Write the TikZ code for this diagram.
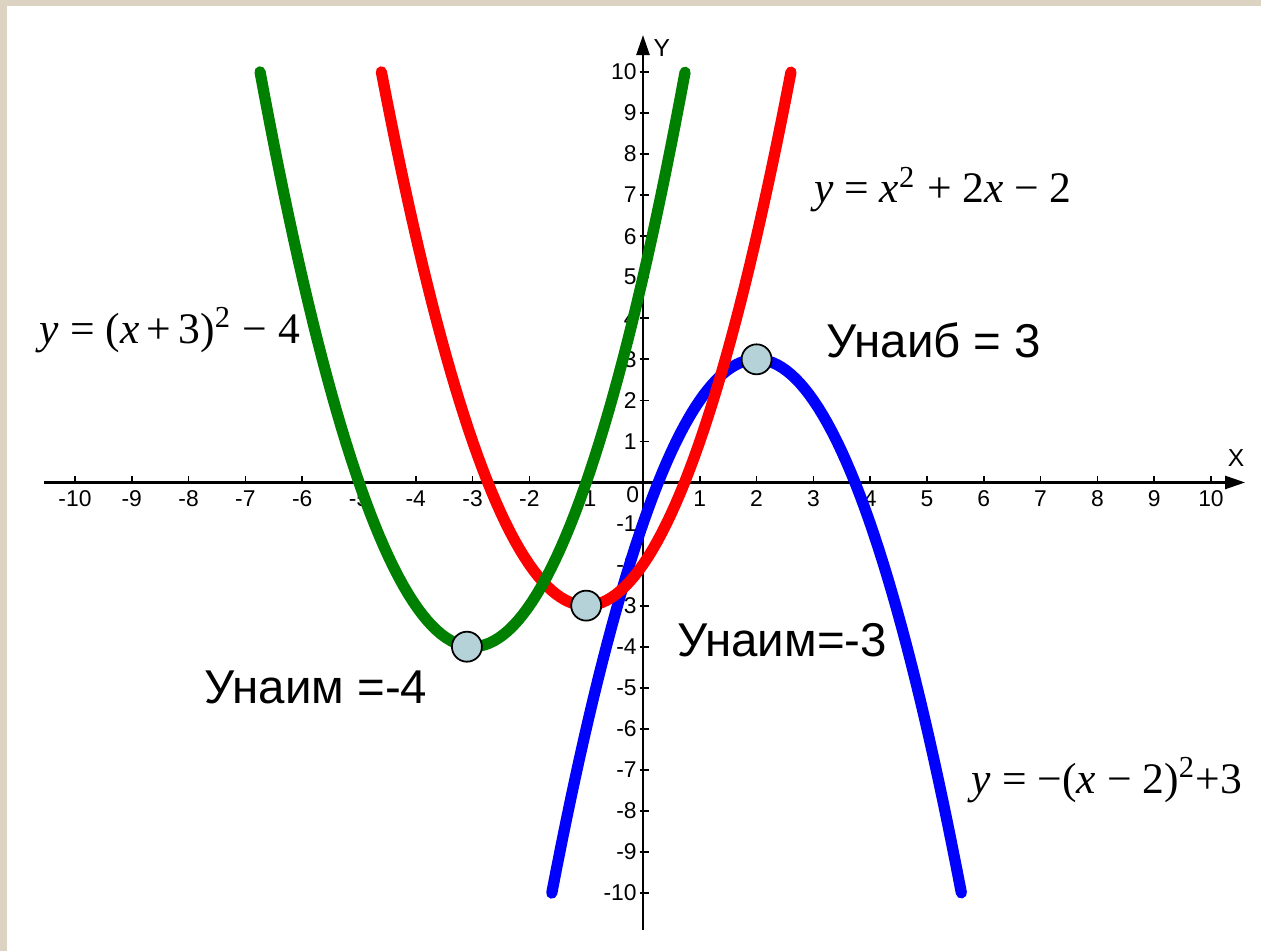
\documentclass[tikz,border=0pt]{standalone}
\usepackage{fontspec}
\setmainfont{Liberation Serif}
\newfontfamily\labelfont{Liberation Sans}
\usepackage{tikz}
\usetikzlibrary{arrows.meta}
\usepackage{xcolor}

\definecolor{framebeige}{RGB}{221,211,195}
\definecolor{curvegreen}{RGB}{0,128,0}
\definecolor{dotfill}{RGB}{180,210,216}

\tikzset{
  curve/.style={line width=3.2pt, line cap=round, line join=round},
  axisline/.style={line width=0.7pt, -{Triangle[length=0.2cm,width=0.13cm]}},
  vertexdot/.style={circle, draw=black, line width=0.5pt, fill=dotfill, minimum size=0.3cm, inner sep=0pt},
  extremum/.style={font=\labelfont\fontsize{13.5}{16}\selectfont},
  formula/.style={font=\fontsize{12.4}{14}\selectfont},
  numlbl/.style={font=\labelfont\fontsize{6.5}{7}\selectfont, inner sep=0pt}
}

\begin{document}
\begin{tikzpicture}[x=0.568cm,y=0.4105cm]

\fill[framebeige] (-6.43cm,-4.685cm) rectangle (6.18cm,4.825cm);
\fill[white] (-6.36cm,-4.685cm) rectangle (6.18cm,4.765cm);
\useasboundingbox (-6.43cm,-4.685cm) rectangle (6.18cm,4.825cm);

% axes
\coordinate (xs) at (-10.55,0);
\coordinate (xe) at (10.6,0);
\coordinate (ys) at (0,-10.9);
\coordinate (ye) at (0,10.9);
\draw[axisline] (xs) -- (xe);
\draw[axisline] (ys) -- (ye);

\foreach \k in {1,...,10}{
  \draw[line width=0.5pt] (\k,0) -- (\k,0.15);
  \draw[line width=0.5pt] (-\k,0) -- (-\k,0.15);
  \draw[line width=0.5pt] (-0.06,\k) -- (0.1,\k);
  \draw[line width=0.5pt] (-0.06,-\k) -- (0.1,-\k);
  \node[numlbl, anchor=base] (xp\k) at (\k,-0.58) {\k};
  \node[numlbl, anchor=base] (xm\k) at (-\k,-0.58) {-\k};
  \node[numlbl, anchor=east] (yp\k) at (-0.1,\k) {\k};
  \node[numlbl, anchor=east] (ym\k) at (-0.1,-\k) {-\k};
}
\node[numlbl, anchor=base] (orig) at (-0.18,-0.48) {0};
\node[numlbl, font=\labelfont\fontsize{7}{8}\selectfont] (xlbl) at (10.44,0.6) {X};
\node[numlbl, font=\labelfont\fontsize{7}{8}\selectfont] (ylbl) at (0.33,10.58) {Y};

% parabolas
\draw[curve, blue] plot[domain=-1.606:5.606, samples=90] (\x, {3-(\x-2)*(\x-2)});
\draw[curve, red] plot[domain=-4.606:2.606, samples=90] (\x, {\x*\x+2*\x-2});
\draw[curve, curvegreen] plot[domain=-6.742:0.742, samples=90] (\x, {(\x+3)*(\x+3)-4});

% vertices
\node[vertexdot] (minG) at (-3.1,-4) {};
\node[vertexdot] (minR) at (-1,-3) {};
\node[vertexdot] (maxB) at (2,3) {};

\node[extremum] (maxBlbl) at (5.12,3.47) {Унаиб = 3};
\node[extremum] (minRlbl) at (2.45,-3.84) {Унаим=-3};
\node[extremum] (minGlbl) at (-5.76,-5.0) {Унаим =-4};

\node[formula] (fG) at (-8.33,3.71) {\textit{y} = (\textit{x}\,+\,3)\textsuperscript{2} − 4};
\node[formula] (fR) at (5.28,7.13) {\textit{y} = \textit{x}\textsuperscript{2} + 2\textit{x} − 2};
\node[formula] (fB) at (8.17,-7.25) {\textit{y} = −(\textit{x} − 2)\textsuperscript{2}+3};

\end{tikzpicture}
\end{document}
